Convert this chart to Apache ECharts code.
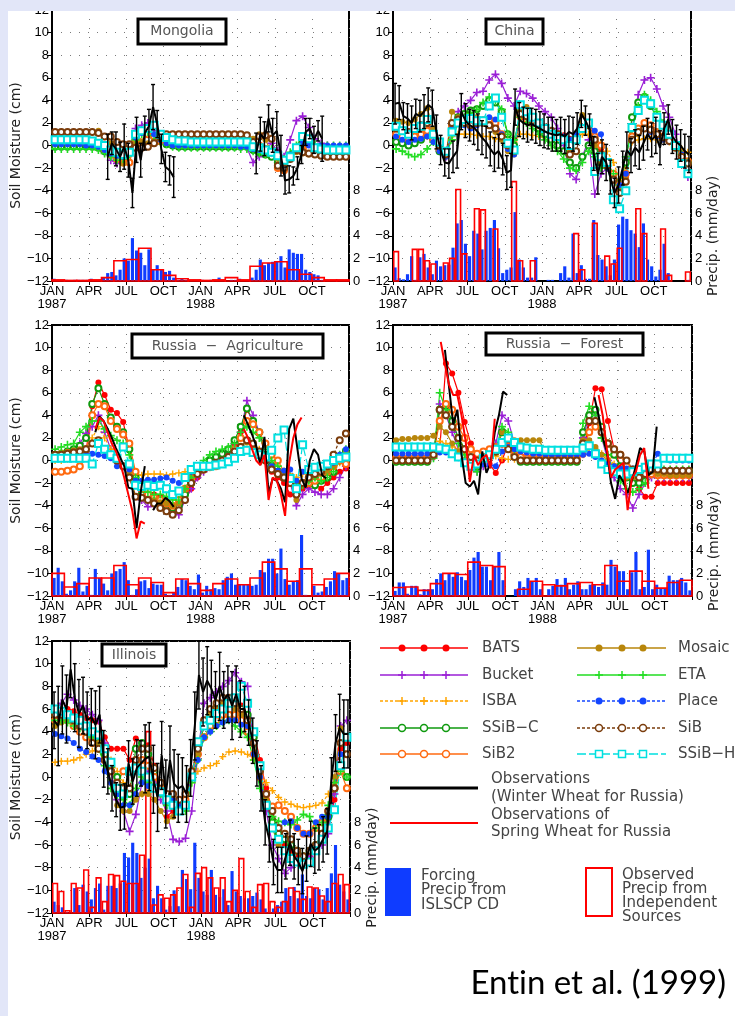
<!DOCTYPE html>
<html><head><meta charset="utf-8">
<script src="https://cdn.jsdelivr.net/npm/echarts/dist/echarts.min.js"></script>
<style>html,body{margin:0;padding:0;background:#fff}#c{width:735px;height:1016px}</style>
</head><body><div id="c"></div><script>
// ---------- tick labels ----------
const monthTicks = ['JAN\n1987','APR','JUL','OCT','JAN\n1988','APR','JUL','OCT',''];
const modelKeys = ['bats','bucket','isba','ssibc','sib2','mosaic','eta','place','sib','ssibh'];
const modelNames = ['BATS','Bucket','ISBA','SSiB\u2212C','SiB2','Mosaic','ETA','Place','SiB','SSiB\u2212H'];

// ---------- MONGOLIA (semi-monthly model values, dekadal obs / forcing precip, monthly observed precip) ----------
const mnBats=[0.2,0.2,0.2,0.2,0.2,0.2,0.2,0.1, -0.3,-0.6,-0.8,-0.9,-0.5,0.6,1.0,1.2, 0.9,0.5,0.3,0.2,0.2,0.2,0.2,0.2, 0.2,0.2,0.2,0.2,0.2,0.2,0.1,0.1, -0.2,-0.4,-0.6,-0.8,-1.2,-1.6,-0.9,-0.3, 0.2,0.1,-0.1,-0.2,-0.3,-0.3,-0.3,-0.3];
const mnBucket=[0,0,0,0,0,0,0,-0.1, -0.6,-1.3,-1.6,-1.2,-0.4,1.5,1.8,2.0, 1.3,0.6,0.2,0.1,0,0,0,0, 0,0,0,0,0,0,0,-0.2, -1.5,-1.0,-0.3,0.2,-0.5,-1.0,0.5,2.2, 2.6,1.6,0.6,0.2,0,-0.1,-0.1,-0.1];
const mnIsba=[0,0,0,0,0,0,0,-0.1, -0.4,-0.8,-1.0,-1.1,-0.7,0.4,0.8,1.0, 0.7,0.3,0.1,0,0,0,0,0, 0,0,0,0,0,0,0,0, -0.3,-0.5,-0.7,-0.9,-1.4,-1.8,-1.0,-0.3, 0.2,0,-0.2,-0.3,-0.4,-0.4,-0.4,-0.4];
const mnSsibc=[-0.1,-0.1,-0.1,-0.1,-0.1,-0.1,-0.1,-0.2, -0.5,-0.8,-1.0,-1.0,-0.6,0.5,1.0,1.2, 0.8,0.4,0.1,0,-0.1,-0.1,-0.1,-0.1, -0.1,-0.1,-0.1,-0.1,-0.1,-0.1,-0.1,-0.1, -0.4,-0.6,-0.8,-1.0,-1.5,-1.9,-1.0,-0.4, 0.3,0.1,-0.2,-0.4,-0.5,-0.5,-0.5,-0.5];
const mnSib2=[0.3,0.3,0.3,0.3,0.3,0.3,0.3,0.2, -0.3,-0.8,-1.2,-1.5,-1.5,0.3,0.8,1.0, 0.8,0.4,0.3,0.3,0.3,0.3,0.3,0.3, 0.3,0.3,0.3,0.3,0.3,0.3,0.3,0.2, -0.2,0,-0.3,-0.6,-2.0,-2.2,-1.0,-0.4, 0,-0.3,-0.5,-0.6,-0.7,-0.7,-0.7,-0.7];
const mnMosaic=[1.1,1.1,1.1,1.1,1.1,1.1,1.2,1.3, 0.8,0.2,-1.0,-1.6,-0.8,0.2,0.3,0.2, 0.4,0.8,1.0,1.0,1.0,1.0,1.0,1.0, 1.0,1.0,1.0,1.0,1.0,1.0,1.0,0.9, 0.6,1.0,0.5,-0.6,-1.2,-1.5,-1.0,-0.6, -0.7,-0.8,-0.8,-0.8,-0.8,-0.8,-0.8,-0.8];
const mnEta=[-0.3,-0.3,-0.3,-0.3,-0.3,-0.3,-0.3,-0.4, -0.7,-1.0,-1.3,-1.2,-0.8,0.5,1.0,1.2, 0.9,0.4,0.1,-0.1,-0.2,-0.2,-0.2,-0.2, -0.2,-0.2,-0.2,-0.2,-0.2,-0.2,-0.3,-0.3, -0.5,-0.7,-0.8,-0.3,-1.0,-1.2,-0.6,0, 0.8,0.5,0.1,0,0,0,0,0];
const mnPlace=[0.1,0.1,0.1,0.1,0.1,0,0,-0.1, -0.4,-0.7,-0.9,-1.0,-0.6,0.7,1.1,1.4, 1.0,0.5,0.2,0,0,0,0,0, 0,0,0,0,0,0,-0.1,-0.1, -0.3,-0.4,-0.5,-0.7,-1.0,-1.4,-0.8,-0.2, 0.2,0,-0.1,0,0,0,0,0];
const mnSib=[1.2,1.2,1.2,1.2,1.2,1.2,1.2,1.1, 0.8,0.8,0.3,0.1,0.1,-0.2,-0.2,-0.1, 0.2,0.7,1.0,1.0,1.0,1.0,1.0,1.0, 1.0,1.0,1.0,1.0,1.0,1.0,1.0,0.9, 0.3,0.8,0.9,0.6,-1.8,-2.0,-1.2,-0.4, -0.6,-0.7,-0.8,-0.9,-1.0,-1.0,-1.0,-1.0];
const mnSsibh=[0.5,0.5,0.5,0.5,0.5,0.5,0.4,0.2, 0,-0.4,-0.6,-0.8,-0.6,1.0,1.3,1.5, 1.8,1.0,0.7,0.5,0.4,0.4,0.3,0.3, 0.3,0.3,0.3,0.3,0.3,0.3,0.3,0.3, -0.1,-0.2,-0.4,-0.6,-0.9,-1.3,-1.0,-0.2, 0.8,0.6,-0.2,-0.3,-0.4,-0.4,-0.4,-0.4];
const mnObs=[null,null,null,null,null,null,null,null,null,null,null,null,
 null,-1.0,0.2,-0.3,-1.0,-0.1,-1.3,-4.2,0.5,-1.3,1.1,1.7,
 3.4,1.9,-0.3,-1.9,-2.2,-2.8,null,null,null,null,null,null,
 null,null,null,null,null,null,null,null,null,null,null,null,
 null,-0.7,1.0,0.6,2.4,0.9,1.3,-0.9,-3.1,-3.0,-2.7,-2.0,
 -0.8,1.2,1.5,0.5,1.3,0.6,null,null,null,null,null,null];
const mnErr=[null,null,null,null,null,null,null,null,null,null,null,null,
 null,2.0,1.0,1.5,1.3,2.0,1.5,1.3,2.0,1.5,1.5,1.5,
 2.0,1.2,1.3,1.3,1.3,1.8,null,null,null,null,null,null,
 null,null,null,null,null,null,null,null,null,null,null,null,
 null,1.8,1.5,1.5,1.2,1.5,1.7,1.8,1.2,1.2,0.8,1.0,
 0.8,1.2,0.9,1.2,0.9,2.0,null,null,null,null,null,null];
const mnBlue=[0.2,0.1,0.1,0.1,0,0.1,0.1,0.1,0.1,0.2,0.1,0.1,
 0.3,0.7,0.8,0.5,1.0,2.0,1.8,3.8,2.7,2.5,1.4,2.8,
 1.0,1.4,1.0,0.8,0.9,0.3,0.1,0.2,0.1,0,0.1,0,
 0.1,0,0.1,0.1,0.3,0.1,0,0.1,0.1,0.2,0.1,0.1,
 0.3,1.0,1.9,1.4,1.6,1.7,1.7,2.2,1.2,2.8,2.5,2.4,
 2.4,1.0,0.8,0.6,0.5,0.1,0.1,0,0,0.1,0,0];
const mnRed=[0.1,0.05,0.05,0.1,0.3,1.8,1.9,2.9,1.0,0.5,0.2,0.1, 0.05,0.1,0.3,0.1,1.3,1.6,1.7,1.0,0.6,0.3,0.1,0.1];

// ---------- CHINA ----------
const cnBats=[1.2,1.0,0.8,1.0,1.2,1.5,0.6,-0.2, -0.8,1.8,2.3,2.0,1.8,2.0,2.3,2.0, 1.8,0.8,0,-0.5,2.5,2.3,2.0,1.8, 1.5,1.3,1.1,0.9,0.6,1.0,1.6,1.8, 0.8,-0.3,-1.8,-2.8,-3.8,-2.8,0.6,1.2, 1.6,1.4,1.0,0.8,0.4,-0.2,-1.0,-1.6];
const cnBucket=[1.0,0.8,0.5,0.8,1.2,1.5,0.5,-0.5, -1.0,1.0,3.0,3.5,4.0,4.7,4.8,5.8, 6.3,5.5,4.2,3.5,4.8,4.6,4.2,3.5, 3.0,2.5,1.5,0,-2.5,-3.0,-1.0,0.5, -4.3,-2.5,-2.0,-3.0,-3.8,-1.0,1.5,4.5, 5.8,6.0,5.0,3.5,2.5,1.0,-1.0,-2.8];
const cnIsba=[0.5,0.5,0.4,0.5,0.6,0.8,0.5,0, -0.5,0.8,1.0,1.0,1.0,0.9,0.8,0.8, 0.6,0.4,0.3,0.3,1.0,1.0,0.9,0.8, 0.7,0.6,0.5,0.5,0.4,0.6,1.0,1.0, 0.5,0.2,-0.5,-1.5,-3.0,-2.0,0.3,0.5, 0.6,0.6,0.5,0.5,0.3,0,-0.3,-0.6];
const cnSsibc=[0.3,0.2,0,0.2,0.5,1.0,0.5,-0.5, -0.8,1.5,2.5,2.8,3.1,3.2,3.5,4.0, 3.8,3.0,1.0,0,3.0,2.5,2.0,1.5, 1.0,0.5,0,-0.5,-1.5,-2.0,-1.0,0, -0.5,-1.5,-1.8,-3.0,-3.5,-1.5,2.5,3.8, 4.3,3.5,2.5,1.8,1.0,0,-0.8,-1.5];
const cnSib2=[1.0,0.8,0.6,0.8,1.0,1.3,0.5,-0.3, -0.8,1.8,2.2,2.0,1.8,2.0,2.2,2.3, 2.0,1.0,0,-0.5,2.6,2.3,2.0,1.8, 1.5,1.2,1.0,0.7,0.3,0.8,1.5,1.8, 0.8,0,-1.5,-2.5,-3.5,-2.5,0.8,1.5, 2.0,1.8,1.2,0.8,0.5,0,-0.8,-1.4];
const cnMosaic=[2.2,2.1,2.0,2.3,2.8,3.3,1.5,0, -1.0,3.0,2.5,2.0,2.2,2.5,2.3,1.8, 1.2,0.5,-0.5,-0.8,3.2,3.4,2.5,2.0, 1.5,1.2,0.8,0.5,-0.5,0.5,2.7,2.0, 0,-1.5,-2.0,-3.0,-4.0,-3.0,0.5,1.0, 1.5,1.5,1.0,0.8,0.5,0,-0.8,-1.5];
const cnEta=[-0.3,-0.5,-0.8,-1.0,-0.8,-0.3,0.3,0, -0.8,0.5,2.0,2.5,2.8,3.2,3.8,4.3, 4.0,3.2,1.0,0.5,2.5,2.0,1.5,1.0, 0.5,0,-0.5,-1.2,-2.0,-2.2,-1.5,-0.5, -1.0,-2.0,-1.5,-2.5,-3.5,-1.0,1.5,3.5, 4.5,4.0,3.0,2.0,1.0,0,-0.8,-1.5];
const cnPlace=[0.8,0.5,0.3,0.5,0.6,0.8,0.3,-0.5, -1.0,1.5,2.0,1.8,1.5,1.8,2.0,2.5, 2.3,1.0,-0.3,-0.8,2.8,2.5,2.0,1.8, 1.5,1.2,1.0,0.8,0.5,1.0,1.5,1.8, 1.3,1.0,-2.0,-3.0,-3.5,-2.5,0.5,1.2, 1.5,1.2,0.8,0.5,0.3,0,-0.8,-1.5];
const cnSib=[1.5,1.3,1.2,1.5,1.8,2.0,1.0,0, -0.8,2.0,2.3,2.0,1.8,2.0,2.0,1.8, 1.5,0.8,0,-0.5,2.8,2.6,2.2,1.9, 1.6,1.3,1.0,0.5,-0.8,-0.5,1.5,1.8, 0.5,-0.8,-1.8,-3.0,-4.2,-3.2,0.5,1.2, 1.5,1.4,1.0,0.7,0.4,-0.2,-1.0,-1.6];
const cnSsibh=[1.7,1.3,1.0,1.5,1.7,2.3,1.0,0.3, -0.5,1.2,2.0,2.3,2.4,2.2,2.2,3.5, 4.2,2.5,0.2,-0.4,3.6,3.0,2.5,2.0, 1.5,1.0,0.8,0.5,0,0.5,1.5,2.0, -2.3,-1.0,-1.5,-4.8,-5.6,-4.0,1.6,3.1, 4.0,3.7,2.5,1.8,1.0,0,-1.6,-2.5];
const cnObs=[3.7,3.8,2.6,2.4,2.0,2.8,2.6,3.0,3.6,3.3,1.2,-0.4,
 -1.5,-1.6,-1.0,-0.5,3.0,2.2,1.8,1.6,1.2,0.7,0.3,-0.3,
 -0.8,-0.5,-1.2,-2.4,-2.2,3.4,2.3,2.0,1.8,1.9,1.7,1.5,
 1.3,1.1,1.0,0.9,1.0,0.8,1.2,1.0,1.5,2.8,2.2,1.4,
 -0.7,-2.5,-1.0,-1.5,-2.8,-4.2,-3.5,-2.0,-0.4,-0.9,-0.2,-0.6,
 0.2,1.0,0.5,0.9,-0.2,1.5,2.3,0.8,0.3,0,-0.5,-0.8];
const cnErr=[1.8,1.5,1.2,1.3,1.5,1.3,1.4,1.5,1.5,1.6,1.5,1.3,
 1.2,1.3,1.4,1.5,1.6,1.5,1.4,1.5,1.6,1.5,1.4,1.5,
 1.5,1.5,1.4,1.5,1.5,1.6,1.5,1.4,1.5,1.4,1.5,1.5,
 1.5,1.4,1.5,1.4,1.5,1.5,1.4,1.5,1.4,1.2,1.3,1.4,
 1.5,1.8,1.5,1.6,1.5,1.3,1.6,1.5,1.6,1.5,1.6,1.5,
 1.5,1.4,1.5,1.6,1.5,1.4,1.3,1.5,1.5,1.4,1.5,1.6];
const cnBlue=[1.2,0.25,0.15,0.6,2.2,0.1,2.1,2.4,1.2,0.6,1.8,1.3,
 1.4,1.45,2.95,5.1,5.4,3.3,2.2,4.45,4.2,2.8,4.45,4.7,
 5.4,2.9,0.7,1.0,1.2,6.1,1.9,1.2,0.3,0.3,2.1,0,
 0,0.1,0.1,0,0.7,1.3,0.3,4.2,0.7,1.4,0.2,0.2,
 5.4,2.3,1.9,1.3,0.5,1.9,5.0,5.7,5.5,4.5,4.2,3.0,
 5.1,1.9,1.3,0.4,1.0,3.3,0.7,0,0,0,0,0.1];
const cnRed=[2.6,0,0,2.8,2.8,1.8,1.5,0, 1.6,2.0,8.1,2.4,0,6.4,6.3,0, 4.6,0,0,8.8,1.8,0,1.8,0, 0,0,0,0,0,4.2,1.0,0, 5.1,0,2.2,1.5,2.9,0,0,6.4, 4.2,0,0,4.6,0.5,0,0,0.8];

// ---------- RUSSIA - AGRICULTURE ----------
const raBats=[0.3,0.3,0.4,0.5,0.6,0.8,4.8,6.9, 5.8,4.5,4.2,3.4,1.0,-2.0,-3.0,-3.2, -3.0,-3.2,-3.5,-4.0,-4.3,-3.5,-2.5,-1.5, -0.5,-0.2,0,0.3,0.8,1.5,2.5,4.5, 3.5,2.5,0.5,-1.0,-1.5,-2.0,-3.0,-3.0, -2.5,-2.2,-2.0,-2.5,-2.0,-1.5,-1.0,-0.7];
const raBucket=[0.3,0.4,0.5,0.6,1.5,2.4,3.0,4.0, 2.5,1.0,0,-0.5,-1.0,-2.0,-3.5,-4.1, -4.0,-4.0,-4.2,-4.5,-4.8,-3.5,-2.5,-1.5, -1.0,-0.5,0,0.3,0.7,1.5,2.5,5.3, 4.0,2.5,0.5,-0.5,-1.0,-1.5,-2.0,-4.0, -3.0,-2.5,-2.8,-3.0,-3.0,-2.5,-1.5,-0.5];
const raIsba=[0,0,0.1,0.2,0.5,1.0,2.0,3.0, 2.0,1.0,0,-0.5,-0.8,-1.2,-1.3,-1.2, -1.2,-1.2,-1.3,-1.2,-1.1,-1.0,-0.8,-0.6, -0.5,-0.4,-0.3,-0.2,0,0.5,1.0,2.0, 1.5,1.0,0,-0.5,-0.8,-1.0,-1.2,-1.5, -1.2,-1.0,-1.0,-0.8,-0.6,-0.5,-0.2,0];
const raSsibc=[0.5,0.6,0.8,1.0,1.3,2.0,5.0,6.4, 5.0,3.8,3.0,2.5,1.0,-1.5,-3.0,-3.3, -3.5,-3.8,-4.0,-4.2,-4.0,-3.0,-2.0,-1.0, -0.5,0,0.3,0.6,1.0,1.8,3.0,4.6, 3.5,2.5,1.0,-0.5,-1.0,-1.5,-2.0,-2.5, -2.0,-2.0,-2.2,-1.8,-1.5,-1.0,0,0.8];
const raSib2=[-1.0,-1.0,-0.9,-0.8,-0.5,0.5,4.0,5.0, 4.8,3.5,2.8,2.3,1.5,-1.0,-2.5,-3.0, -3.3,-3.5,-3.8,-4.0,-3.5,-2.5,-1.5,-1.0, -0.8,-0.6,-0.5,-0.3,0,1.0,2.0,3.5, 3.2,2.5,1.5,0.5,0,-1.0,-2.0,-2.5, -2.0,-2.0,-1.8,-1.5,-1.0,-0.5,0,-0.3];
const raMosaic=[0.6,0.7,0.8,0.9,1.0,1.1,1.6,1.8, 1.0,0.5,0,-0.5,-1.0,-3.2,-3.3,-3.4, -3.5,-3.7,-3.8,-4.0,-3.8,-2.5,-1.5,-1.0, -0.8,-0.5,-0.2,0,0.3,0.8,1.3,1.6, 1.2,0.5,0,-0.5,-1.0,-1.2,-1.8,-3.5, -2.0,-1.8,-1.5,-1.2,-1.0,-0.5,0.3,0.8];
const raEta=[1.0,1.2,1.4,1.5,2.5,3.0,3.5,3.5, 2.8,2.2,1.8,1.5,0.5,-1.5,-2.5,-2.8, -3.0,-3.0,-3.2,-3.5,-3.5,-2.5,-1.5,-1.0, 0,0.5,0.8,1.0,1.2,1.5,2.5,3.0, 2.5,2.0,1.0,0,-0.5,-1.0,-1.5,-2.0, -2.2,-1.8,-1.5,-1.8,-1.5,-1.0,0.5,1.0];
const raPlace=[0.4,0.4,0.5,0.5,0.5,0.5,0.6,0.5, 0.4,0.2,-0.5,-0.6,-0.8,-1.8,-1.8,-1.7, -1.7,-1.6,-1.5,-1.8,-2.0,-1.6,-1.0,-0.7, -0.6,-0.4,-0.2,0,0.3,0.6,1.0,1.8, 1.5,0.8,0,-0.5,-0.9,-0.9,-0.8,-1.8, -1.0,-0.8,-0.7,-0.6,-0.5,-0.2,0.5,1.0];
const raSib=[0.5,0.5,0.6,0.7,0.8,1.0,1.5,1.8, 1.0,0.5,0,-0.5,-1.5,-3.2,-3.3,-3.5, -3.8,-4.2,-4.5,-4.8,-4.4,-3.5,-2.0,-1.2, -0.8,-0.5,-0.2,0,0.3,0.8,1.2,1.8, 1.5,0.8,0,-0.8,-1.2,-1.5,-2.0,-3.0, -2.0,-1.5,-1.2,-1.0,-0.5,0.5,1.8,2.4];
const raSsibh=[0.2,0.2,0.2,0.2,0.2,0.2,-0.3,1.5, 1.0,0.5,0.2,1.2,-0.3,-2.2,-2.3,-2.2, -2.3,-2.2,-2.5,-3.0,-2.7,-1.5,-0.8,-0.5, -0.5,-0.5,-0.4,-0.3,-0.1,0.2,0.8,0.9, 0.7,0.5,0.3,0.9,2.0,2.7,-1.6,-2.5, 1.4,-0.8,-0.6,-0.5,-0.3,0,0.2,0.3];
const raObs=[null,null,null,null,null,null,null,null,null,null,2.5,3.9,
 3.5,2.8,2.0,1.1,0.3,-0.5,-2.4,-2.5,-6.0,-2.8,-0.5,null,
 -4.4,-3.8,-3.8,-3.3,-3.6,-4.1,null,null,null,null,null,null,
 null,null,null,null,null,null,null,null,null,null,4.0,3.2,
 2.3,1.3,-0.4,2.1,-2.9,-1.6,-1.8,-2.5,-3.7,2.8,3.7,1.0,
 -1.6,-2.4,0,1.0,0.5,-1.3,-1.6,null,null,null,null,null];
const raObs2=[null,null,null,null,null,null,null,null,null,null,2.8,3.8,
 3.5,2.5,1.5,0.8,-0.2,-1.5,-3.0,-4.5,-6.9,-5.4,-5.6,null,
 null,null,null,null,null,null,null,null,null,null,null,null,
 null,null,null,null,null,null,null,null,null,null,2.8,2.0,
 1.0,0,-0.4,0.5,-3.5,-1.5,-1.8,-3.0,-4.9,-0.2,2.0,3.2,
 3.8,null,null,null,null,null,null,null,null,null,null,null];
const raBlue=[1.6,2.5,1.3,0.2,0.5,1.3,2.5,0.4,0.9,0.1,2.4,1.6,
 1.1,0.5,2.0,2.2,2.4,3.0,1.4,0.1,0.6,1.3,1.4,0.7,
 1.1,1.0,1.0,0.2,0.1,0.3,0.8,1.5,1.4,0.9,0.6,1.9,
 0.3,0.9,0.6,0.7,0.6,1.4,1.7,2.0,1.0,1.0,1.0,1.0,
 0.9,1.0,2.3,2.1,3.3,3.3,2.0,4.2,1.5,1.0,1.3,1.4,
 5.4,0.1,0,0.9,0.3,0.4,0.8,1.3,2.2,2.0,1.4,1.6];
const raRed=[2.0,0.8,1.1,1.6,1.6,2.7,1.0,1.6,1.2,0.3,1.5,1.1, 0.5,1.1,1.5,1.0,1.6,3.0,2.4,1.3,2.4,1.0,1.5,2.0];

// ---------- RUSSIA - FOREST ----------
const rfBats=[0.3,0.3,0.3,0.3,0.3,0.3,0.3,1.0, 8.6,7.7,6.0,3.4,1.5,0.2,0.5,-0.3, -1.1,0,1.5,1.0,0.8,0.7,0.6,0.6, 0.5,0.5,0.5,0.5,0.5,0.5,0.5,3.3, 6.4,6.3,3.5,1.0,-0.5,-1.0,-1.5,-2.5, -3.2,-3.2,-2.0,-2.0,-2.0,-2.0,-2.0,-2.0];
const rfBucket=[0,0,0,0,0,0,0.3,5.0, 4.0,2.5,1.0,0,-0.8,-1.0,-0.5,0.5, 1.5,4.0,3.5,1.5,0.5,0.2,0.1,0, 0,0,0,0,0,0,2.0,4.0, 4.0,2.0,0,-1.5,-2.5,-3.0,-4.2,-3.0, -2.0,-1.5,-1.5,-1.5,-1.5,-1.5,-1.5,-1.5];
const rfIsba=[0.1,0.1,0.1,0.1,0.1,0.1,0.5,1.7, 1.5,1.2,1.0,0.6,0.2,0,0.2,0.3, 0.4,0.2,0.1,0.1,0.1,0.1,0.1,0.1, 0.1,0.1,0.1,0.1,0.1,0.1,0.5,1.0, 1.0,0.6,0.2,-0.3,-0.8,-1.2,-1.5,-1.5, -1.3,-1.3,-1.4,-1.4,-1.4,-1.4,-1.4,-1.4];
const rfSsibc=[-0.1,-0.1,-0.1,-0.1,-0.1,-0.1,0.5,4.5, 4.8,3.5,2.0,1.0,0,-0.5,0.2,0.5, 0.8,2.5,2.0,0.5,-0.1,-0.1,-0.1,-0.1, -0.1,-0.1,-0.1,-0.1,-0.1,-0.1,2.5,4.0, 4.5,3.0,1.5,0.5,-0.5,-1.5,-2.0,-2.0, -1.8,-1.0,-1.0,-1.0,-1.0,-1.0,-1.0,-1.0];
const rfSib2=[0.2,0.2,0.2,0.2,0.2,0.2,0.5,3.5, 5.0,4.5,3.0,2.0,1.0,0.6,0.8,1.0, 1.2,1.5,1.2,0.5,0.3,0.2,0.2,0.2, 0.2,0.2,0.2,0.2,0.2,0.2,1.0,2.5, 3.0,2.5,1.5,1.0,0.5,-0.5,-1.0,-1.2, -1.0,-1.2,-1.3,-1.3,-1.3,-1.3,-1.3,-1.3];
const rfMosaic=[1.8,1.9,1.9,2.0,2.0,2.0,2.2,3.0, 2.5,1.5,0.8,0,-0.5,-0.5,0,0.5, 1.0,2.5,2.0,1.8,1.8,1.8,1.8,1.8, 0.6,0.6,0.6,0.6,0.6,0.6,1.8,1.8, 1.2,0.5,0,-0.5,-1.0,-1.5,-1.5,-1.5, -1.0,-1.0,-1.2,-1.2,-1.3,-1.3,-1.3,-1.3];
const rfEta=[-0.1,-0.1,-0.1,-0.1,-0.1,-0.1,0.2,6.0, 4.5,3.0,1.5,0.5,-0.5,-1.0,0,0.5, 1.0,3.0,2.5,1.0,0,-0.1,-0.1,-0.1, -0.1,-0.1,-0.1,-0.1,-0.1,-0.1,3.3,4.8, 4.0,2.0,0.5,-1.0,-1.8,-2.5,-2.8,-2.5, -2.0,-0.5,-0.8,-0.8,-0.8,-0.8,-0.8,-0.8];
const rfPlace=[0.6,0.6,0.6,0.6,0.6,0.6,0.6,0.7, 0.7,0.5,0.2,-0.2,-0.5,-0.4,-0.3,-0.4, -0.5,0.8,1.2,1.0,0.8,0.7,0.6,0.6, 0.5,0.5,0.5,0.5,0.5,0.5,0.5,0.6, 0.3,0,-0.3,-0.5,-0.7,-0.7,-0.7,-0.8, -0.6,-0.5,0.6,0.3,0,0,0,0];
const rfSib=[0,0,0,0,0,0,0.5,4.5, 4.0,3.0,2.0,1.0,0.3,0,0.2,0.4, 0.8,1.5,1.0,0.3,0,0,0,0, 0,0,0,0,0,0,1.5,3.5, 3.5,2.5,1.5,1.0,0.5,0,-0.8,-1.5, -1.2,-0.8,-0.8,-0.9,-0.9,-0.9,-0.9,-0.9];
const rfSsibh=[1.2,1.2,1.2,1.2,1.2,1.2,1.2,1.1, 1.0,0.6,0.3,-0.2,-0.5,-0.3,0.2,0.5, 1.0,1.6,2.0,1.6,1.2,1.1,1.0,1.0, 0.9,0.9,0.9,0.9,0.9,0.9,1.1,1.3, 0.6,-0.3,-0.8,-1.0,-1.2,-1.2,-1.0,-0.8, -0.6,-0.3,-0.3,0.2,0.2,0.2,0.2,0.2];
const rfObs=[null,null,null,null,null,null,null,null,null,null,null,null,
 9.8,6.5,3.2,4.5,0.5,-2.0,-2.3,-1.8,-3.0,0.8,-1.1,-0.2,
 2.5,4.0,6.1,5.8,null,null,null,null,null,null,null,null,
 null,null,null,null,null,null,null,null,null,null,null,null,
 5.6,4.0,2.0,0.8,-2.0,-3.4,-1.3,-1.9,-2.9,-1.8,-0.5,1.1,
 0.8,-1.3,-1.0,3.0,null,null,null,null,null,null,null,null];
const rfObs2=[null,null,null,null,null,null,null,null,null,null,null,10.5,
 8.5,6.7,5.8,5.8,4.0,1.7,-1.9,0.5,-0.4,0.2,0.5,-0.7,
 3.7,null,null,null,null,null,null,null,null,null,null,null,
 null,null,null,null,null,null,null,null,null,null,null,null,
 null,5.8,4.0,1.0,-1.5,-0.8,-0.5,-0.2,-4.4,-1.6,-1.0,0.5,
 1.1,-2.5,null,null,null,null,null,null,null,null,null,null];
const rfBlue=[0.45,1.2,1.2,0.2,0.9,0.9,0.15,0.6,0.6,0.6,1.5,2.0,
 1.4,2.0,1.7,2.1,1.7,1.4,2.3,3.4,3.9,2.6,2.6,1.4,
 2.6,3.9,1.4,0,0,0.6,1.3,0.8,1.6,1.3,1.6,0.6,
 0,0.6,0.9,1.5,1.0,1.6,0.6,1.0,1.3,0.6,0.6,1.0,
 1.0,0.8,1.2,1.0,3.2,2.6,2.2,2.2,0.6,2.1,3.9,0.6,
 0.8,4.1,0.6,1.0,0.7,0.7,1.8,1.4,1.4,1.6,1.2,0.5];
const rfRed=[0.75,0.8,0.5,1.1,2.0,1.9,3.0,2.7,2.6,0,0.6,1.3, 1.0,0.9,1.1,1.2,1.0,2.7,1.3,2.2,1.3,0.7,1.2,1.4];

// ---------- ILLINOIS ----------
const ilBats=[5.5,5.8,6.0,5.8,5.5,5.2,5.0,4.9, 3.5,2.5,2.5,2.5,1.5,3.4,3.0,2.8, 1.0,-1.0,-3.5,-3.0,-2.5,-2.0,0.5,2.5, 4.5,5.0,5.5,6.0,6.5,6.5,6.3,5.5, 4.0,1.5,-1.0,-3.0,-5.0,-6.0,-6.5,-7.0, -7.5,-7.0,-6.5,-5.5,-4.5,-2.0,2.5,3.0];
const ilBucket=[6.0,6.5,7.3,6.8,6.3,6.0,5.5,5.0, 3.0,0.5,-2.0,-3.0,-4.8,-3.3,-0.5,0.5, 0,-2.0,-3.0,-5.5,-5.7,-5.4,-3.0,2.0, 6.5,7.0,7.5,8.0,8.5,9.2,8.4,8.0, 3.0,0,-3.0,-6.0,-7.2,-8.5,-8.0,-7.5, -7.0,-7.0,-6.5,-6.0,-5.0,-1.5,4.5,5.0];
const ilIsba=[1.3,1.4,1.4,1.5,1.7,2.0,2.3,2.5, 2.2,1.5,0.5,-0.5,-1.0,-1.5,-1.5,-1.3, -1.0,-1.0,-1.5,-1.8,-2.0,-1.5,-0.5,0.5, 0.8,1.0,1.2,1.8,2.2,2.3,2.2,2.0, 1.5,0.5,-0.5,-1.2,-1.8,-2.2,-2.4,-2.6, -2.7,-2.6,-2.5,-2.3,-1.5,-0.5,0.5,0];
const ilSsibc=[5.5,5.5,5.5,5.0,4.5,4.0,3.5,3.0, 2.0,1.0,0,-1.0,-1.5,2.5,3.0,2.0, 0.5,-1.0,-2.0,-2.5,-2.8,-2.5,0,2.5, 4.5,5.5,6.0,6.2,6.5,6.5,6.0,5.5, 3.5,1.0,-2.5,-4.0,-5.0,-5.5,-6.0,-6.5, -7.0,-6.5,-6.0,-5.0,-3.5,-1.0,1.0,0];
const ilSib2=[5.0,5.0,5.0,4.5,4.0,3.5,3.0,2.5, 1.5,0.5,-0.5,0.5,0.5,1.0,1.5,1.0, 0,-1.0,-2.0,-2.5,-2.5,-2.0,0,2.0, 3.5,4.5,5.0,5.5,5.5,5.5,5.0,4.0, 2.0,0,-1.5,-2.6,-2.5,-3.0,-3.5,-4.5, -5.0,-5.0,-4.5,-4.0,-3.0,-1.0,0.5,-1.0];
const ilMosaic=[4.5,4.8,5.0,4.8,4.5,4.0,3.5,3.0, 1.5,-0.5,-2.5,-3.0,-3.0,-2.0,-1.5,-1.5, -2.0,-3.0,-3.9,-3.5,-3.0,-2.5,0.5,2.0, 5.0,5.5,6.0,6.5,6.5,6.0,5.5,5.0, 3.0,0,-2.0,-4.5,-6.0,-6.5,-7.0,-7.5, -7.5,-6.5,-6.0,-5.5,-3.0,0,4.3,3.5];
const ilEta=[5.0,5.0,4.8,4.5,4.3,4.0,3.5,2.5, 1.0,-1.0,-1.6,-2.0,-2.5,-1.0,0,-0.5, -1.0,-1.5,-2.5,-2.5,-3.0,-3.0,-0.5,1.5, 3.5,4.0,4.5,4.8,5.0,4.5,4.0,3.5, 1.5,-1.0,-2.5,-3.5,-3.9,-4.0,-4.2,-3.8, -3.3,-3.5,-4.5,-4.0,-2.5,-0.5,0.5,0];
const ilPlace=[3.8,3.6,3.4,3.0,2.5,2.2,1.8,1.5, 0.5,-0.5,-1.5,-2.5,-2.5,-1.5,-0.5,-0.8, -1.0,-1.2,-1.5,-2.0,-2.5,-2.5,0,1.5, 3.5,4.0,4.5,4.8,5.0,5.0,4.6,4.5, 2.0,0,-2.5,-4.5,-4.5,-4.0,-3.9,-4.5, -5.0,-5.0,-4.0,-3.5,-3.5,-1.0,2.0,2.0];
const ilSib=[5.5,5.5,5.5,5.0,4.5,4.0,3.0,2.5, 1.5,0.5,-0.5,-1.0,-1.0,1.5,2.5,2.5, 0.8,-0.5,-1.5,-1.5,-2.0,-1.5,0.5,2.5, 5.0,6.0,6.5,7.0,7.0,6.5,6.0,5.0, 3.0,0.5,-1.5,-3.0,-4.5,-5.0,-5.5,-6.5, -7.0,-6.5,-6.0,-5.0,-3.0,-1.0,3.0,2.0];
const ilSsibh=[6.0,5.8,5.5,5.2,5.0,4.5,4.0,3.7, 2.5,1.3,-1.0,-1.5,0.5,0.8,0.5,0, -1.0,-1.3,-2.0,-2.5,-3.0,-2.5,0,3.1, 4.5,5.0,5.6,6.0,6.5,7.0,8.0,6.5, 4.0,1.0,-2.5,-4.5,-5.5,-6.5,-7.2,-7.5, -7.7,-7.5,-6.5,-5.5,-4.5,-2.9,1.0,3.5];
const ilObs=[5.0,4.5,6.8,6.0,9.5,7.0,5.6,6.3,5.0,5.3,4.6,5.5,
 1.6,0.5,-1.0,-2.0,-2.7,-2.6,1.2,-0.4,0.8,1.2,1.6,1.8,
 -0.2,-1.8,1.9,-1.5,1.5,-0.6,-1.0,-0.8,-1.5,0.8,4.5,9.0,
 7.5,8.5,7.8,6.8,8.0,6.8,7.3,6.3,7.3,6.0,6.0,4.8,
 3.2,1.2,-1.0,-4.0,-5.5,-7.5,-8.2,-8.2,-7.0,-5.8,-7.0,-7.5,
 -8.3,-7.2,-5.9,-6.5,-6.2,-5.5,-4.8,-0.3,3.0,4.3,3.8,3.8];
const ilErr=[2.5,3.5,3.0,3.0,2.5,3.0,3.0,2.5,2.5,2.5,3.0,2.5,
 2.5,2.0,2.0,1.5,2.0,2.0,2.0,2.0,2.5,2.0,3.0,3.0,
 3.0,3.0,3.0,3.0,3.0,3.0,3.0,2.5,2.5,2.5,3.0,3.0,
 3.0,3.0,2.5,2.5,3.0,2.5,2.5,3.0,2.5,2.5,2.0,2.0,
 2.0,2.0,2.0,2.0,2.0,2.0,2.0,2.0,2.0,2.0,2.0,2.0,
 2.0,2.0,2.0,2.0,2.0,2.0,2.0,2.0,2.5,3.0,3.0,3.0];
const ilBlue=[1.0,0.7,0.5,0.1,0.05,2.2,0.7,2.5,1.9,1.2,2.2,2.6,
 0.3,2.4,2.4,2.2,2.6,5.3,4.9,6.2,5.3,3.1,4.0,4.8,
 1.3,2.4,1.3,0.3,0.6,2.0,0.6,3.8,3.0,2.1,6.2,3.1,
 1.9,1.6,3.8,1.6,1.4,2.1,0.7,3.7,1.9,1.5,1.3,1.3,
 1.5,1.8,1.2,0.4,0.1,0.4,0.7,1.0,2.2,1.5,2.3,1.3,
 3.4,1.5,1.3,2.2,2.1,1.2,2.2,3.5,6.0,2.5,1.9,1.2];
const ilRed=[2.6,1.9,0.2,2.6,2.2,3.8,0.5,3.1, 1.0,3.4,3.3,2.8,2.6,2.6,5.1,16.0, 0.7,1.6,1.3,1.6,2.2,3.4,0.5,3.5, 4.0,3.1,2.2,3.1,1.0,2.0,4.8,1.9, 0.5,2.5,2.6,1.0,0.5,1.0,2.2,1.9, 1.2,2.3,2.2,1.5,1.0,2.6,3.4,2.5];

// ---------- styles ----------
const PLUS = 'path://M4,0H6V4H10V6H6V10H4V6H0V4H4Z';
const STY = {
  bats:  {color:'#ff0000', kind:'circle', size:6, dash:'solid'},
  bucket:{color:'#9a1fd6', kind:'plus', size:8, dash:'solid'},
  isba:  {color:'#ffa500', kind:'plus', size:7, dash:[3,2]},
  ssibc: {color:'#0f9a0f', kind:'emptyCircle', size:6, dash:'solid'},
  sib2:  {color:'#ff6a10', kind:'emptyCircle', size:6, dash:'solid'},
  mosaic:{color:'#b8860b', kind:'circle', size:6, dash:'solid'},
  eta:   {color:'#22dd22', kind:'plus', size:8, dash:'solid'},
  place: {color:'#1446ff', kind:'circle', size:6, dash:[3,2]},
  sib:   {color:'#7a3c0c', kind:'emptyCircle', size:6, dash:[3,2]},
  ssibh: {color:'#00e0e0', kind:'emptyRect', size:7, dash:[9,3]}
};
const LAV = '#e2e6f8';
const TF = 'Liberation Sans';
const LF = 'DejaVu Sans';

const panels = [
 {title:'Mongolia', left:52, top:10, width:297, height:271, soil:true, pname:false, box:[138,19,88,25],
  m:[mnBats,mnBucket,mnIsba,mnSsibc,mnSib2,mnMosaic,mnEta,mnPlace,mnSib,mnSsibh], obs:mnObs, err:mnErr, obs2:null, blue:mnBlue, red:mnRed, redSemi:false},
 {title:'China', left:393, top:10, width:298, height:271, soil:false, pname:true, box:[486,19,57,25],
  m:[cnBats,cnBucket,cnIsba,cnSsibc,cnSib2,cnMosaic,cnEta,cnPlace,cnSib,cnSsibh], obs:cnObs, err:cnErr, obs2:null, blue:cnBlue, red:cnRed, redSemi:true},
 {title:'Russia  \u2212  Agriculture', left:52, top:325, width:297, height:271, soil:true, pname:false, box:[132,334,191,24],
  m:[raBats,raBucket,raIsba,raSsibc,raSib2,raMosaic,raEta,raPlace,raSib,raSsibh], obs:raObs, err:null, obs2:raObs2, blue:raBlue, red:raRed, redSemi:false},
 {title:'Russia  \u2212  Forest', left:393, top:325, width:299, height:271, soil:false, pname:true, box:[486,333,157,22],
  m:[rfBats,rfBucket,rfIsba,rfSsibc,rfSib2,rfMosaic,rfEta,rfPlace,rfSib,rfSsibh], obs:rfObs, err:null, obs2:rfObs2, blue:rfBlue, red:rfRed, redSemi:false},
 {title:'Illinois', left:52, top:641, width:298, height:272, soil:true, pname:true, box:[102,644,64,22],
  m:[ilBats,ilBucket,ilIsba,ilSsibc,ilSib2,ilMosaic,ilEta,ilPlace,ilSib,ilSsibh], obs:ilObs, err:ilErr, obs2:null, blue:ilBlue, red:ilRed, redSemi:true}
];

function fmtY(v){ return v<0 ? '\u2212'+Math.abs(v) : String(v); }
function symbolOf(kind){ return kind==='plus' ? PLUS : kind; }

function barRender(fill, stroke){
  return function(params, api){
    const a = api.coord([api.value(0), api.value(2)]);
    const b = api.coord([api.value(1), 0]);
    return {type:'rect', shape:{x:a[0], y:a[1], width:b[0]-a[0], height:b[1]-a[1]},
      style: stroke ? {fill:'none', stroke:stroke, lineWidth:1.6} : {fill:fill}};
  };
}
function errRender(params, api){
  const x=api.value(0), y=api.value(1), e=api.value(2);
  const t=api.coord([x,y+e]), b=api.coord([x,y-e]);
  const st={stroke:'#000', lineWidth:1.4};
  return {type:'group', children:[
    {type:'line', shape:{x1:t[0],y1:t[1],x2:b[0],y2:b[1]}, style:st},
    {type:'line', shape:{x1:t[0]-2,y1:t[1],x2:t[0]+2,y2:t[1]}, style:st},
    {type:'line', shape:{x1:b[0]-2,y1:b[1],x2:b[0]+2,y2:b[1]}, style:st}]};
}

const grid=[], xAxis=[], yAxis=[], series=[], graphic=[];
const dotted = {type:[1,8], color:'#7a7a7a', width:1};
panels.forEach((p,pi)=>{
  const gi = pi*2, pg = pi*2+1;
  grid.push({left:p.left, top:p.top, width:p.width, height:p.height, show:true, backgroundColor:'#fff', borderColor:'#000', borderWidth:2});
  const ph = p.height/3;
  grid.push({left:p.left, top:p.top+p.height-ph, width:p.width, height:ph});
  xAxis.push({gridIndex:gi, type:'value', min:0, max:24, interval:3,
    axisLine:{show:true, onZero:false, lineStyle:{color:'#000', width:2}},
    axisTick:{show:true, length:4, lineStyle:{color:'#000'}},
    axisLabel:{formatter:v=>monthTicks[Math.round(v/3)], fontFamily:TF, fontSize:13, color:'#000', margin:4, lineHeight:13},
    splitLine:{show:true, lineStyle:dotted}});
  xAxis.push({gridIndex:pg, type:'value', min:0, max:24, show:false});
  yAxis.push({gridIndex:gi, type:'value', min:-12, max:12, interval:2,
    axisLine:{show:true, onZero:false, lineStyle:{color:'#000', width:2}},
    axisTick:{show:true, length:5, lineStyle:{color:'#000'}},
    axisLabel:{formatter:fmtY, fontFamily:TF, fontSize:13, color:'#000', margin:3},
    splitLine:{show:true, lineStyle:dotted},
    name: p.soil ? 'Soil Moisture (cm)' : '', nameLocation:'middle', nameGap:29,
    nameTextStyle:{fontFamily:LF, fontSize:14, color:'#222'}});
  yAxis.push({gridIndex:pg, type:'value', position:'right', min:0, max:8, interval:2,
    axisLine:{show:false}, axisTick:{show:false}, splitLine:{show:false},
    axisLabel:{fontFamily:TF, fontSize:13, color:'#000', margin:4},
    name: p.pname ? 'Precip. (mm/day)' : '', nameLocation:'middle', nameRotate:90, nameGap:15,
    nameTextStyle:{fontFamily:LF, fontSize:14, color:'#222'}});

  // forcing precip (dekadal)
  series.push({type:'custom', xAxisIndex:pg, yAxisIndex:pg, silent:true, z:2, clip:false,
    renderItem: barRender('#0f3cff', null), encode:{x:[0,1], y:2},
    data: p.blue.map((v,i)=>[(i+0.12)/3, (i+0.88)/3, v]).filter(d=>d[2]>0)});
  // observed precip
  const redData = p.redSemi
    ? p.red.map((v,i)=>[i/2+0.06, i/2+0.44, v])
    : p.red.map((v,i)=>[i, i+1, v]);
  series.push({type:'custom', xAxisIndex:pg, yAxisIndex:pg, silent:true, z:2, clip:false,
    renderItem: barRender(null, '#ff0000'), encode:{x:[0,1], y:2},
    data: redData.filter(d=>d[2]>0)});
  // models
  p.m.forEach((arr,mi)=>{
    const s = STY[modelKeys[mi]];
    series.push({type:'line', name:modelNames[mi], xAxisIndex:gi, yAxisIndex:gi, z:3, silent:true,
      data: arr.map((v,i)=>[(i+0.5)/2, v]),
      symbol: symbolOf(s.kind), symbolSize: s.size, showSymbol:true,
      lineStyle:{color:s.color, width:1.2, type:s.dash},
      itemStyle:{color:s.color, borderColor:s.color, borderWidth: (s.kind==='emptyCircle'||s.kind==='emptyRect')?1.4:0}});
  });
  // observations
  series.push({type:'line', xAxisIndex:gi, yAxisIndex:gi, z:5, silent:true, symbol:'none', connectNulls:false,
    data: p.obs.map((v,i)=>[(i+0.5)/3, v==null?'-':v]), lineStyle:{color:'#000', width:2}});
  if(p.err){
    series.push({type:'custom', xAxisIndex:gi, yAxisIndex:gi, z:5, silent:true, clip:true,
      renderItem: errRender, encode:{x:0, y:1},
      data: p.obs.map((v,i)=>[(i+0.5)/3, v, p.err[i]]).filter(d=>d[1]!=null && d[2]!=null)});
  }
  if(p.obs2){
    series.push({type:'line', xAxisIndex:gi, yAxisIndex:gi, z:5, silent:true, symbol:'none', connectNulls:false,
      data: p.obs2.map((v,i)=>[(i+0.5)/3, v==null?'-':v]), lineStyle:{color:'#ff0000', width:2}});
  }
  // title box
  const [bx,by,bw,bh] = p.box;
  graphic.push({type:'rect', z:50, shape:{x:bx, y:by, width:bw, height:bh}, style:{fill:'#fff', stroke:'#000', lineWidth:3}});
  graphic.push({type:'text', z:51, x:bx+bw/2, y:by+bh/2, style:{text:p.title, font:'14px "DejaVu Sans"', fill:'#555', textAlign:'center', textVerticalAlign:'middle', align:'center', verticalAlign:'middle'}});
});

// ---------- legend ----------
function legSym(kind, color, cx, cy){
  if(kind==='circle') return {type:'circle', z:60, shape:{cx:cx,cy:cy,r:3.5}, style:{fill:color}};
  if(kind==='emptyCircle') return {type:'circle', z:60, shape:{cx:cx,cy:cy,r:3.5}, style:{fill:'#fff', stroke:color, lineWidth:1.5}};
  if(kind==='emptyRect') return {type:'rect', z:60, shape:{x:cx-3.5,y:cy-3.5,width:7,height:7}, style:{fill:'#fff', stroke:color, lineWidth:1.5}};
  return {type:'group', z:60, children:[
    {type:'line', shape:{x1:cx-4,y1:cy,x2:cx+4,y2:cy}, style:{stroke:color,lineWidth:1.5}},
    {type:'line', shape:{x1:cx,y1:cy-4,x2:cx,y2:cy+4}, style:{stroke:color,lineWidth:1.5}}]};
}
const legRows = [648,675,701,728,754];
modelKeys.forEach((k,i)=>{
  const col = i<5 ? 0 : 1;
  const y = legRows[i%5];
  const x1 = col? 577:380, x2 = col? 666:468, tx = col? 678:482;
  const s = STY[k];
  graphic.push({type:'line', z:59, shape:{x1:x1,y1:y,x2:x2,y2:y}, style:{stroke:s.color, lineWidth:1.6, lineDash: s.dash==='solid'?null:s.dash}});
  const xs = col? [599,622,643] : [402,424,446];
  xs.forEach(cx=>graphic.push(legSym(s.kind, s.color, cx, y)));
  graphic.push({type:'text', z:60, x:tx, y:y, style:{text:modelNames[i], font:'15px "DejaVu Sans"', fill:'#444', textVerticalAlign:'middle', verticalAlign:'middle'}});
});
const legText = (t,x,y)=>({type:'text', z:60, x:x, y:y, style:{text:t, font:'15px "DejaVu Sans"', fill:'#444', textVerticalAlign:'middle', verticalAlign:'middle'}});
graphic.push({type:'line', z:59, shape:{x1:390,y1:788,x2:478,y2:788}, style:{stroke:'#000', lineWidth:3}});
graphic.push(legText('Observations',491,779));
graphic.push(legText('(Winter Wheat for Russia)',491,797));
graphic.push({type:'line', z:59, shape:{x1:390,y1:823,x2:478,y2:823}, style:{stroke:'#ff0000', lineWidth:2}});
graphic.push(legText('Observations of',491,815));
graphic.push(legText('Spring Wheat for Russia',491,832));
graphic.push({type:'rect', z:59, shape:{x:385,y:868,width:26,height:48}, style:{fill:'#0f3cff'}});
['Forcing','Precip from','ISLSCP CD'].forEach((t,i)=>graphic.push(legText(t,421,876+i*14.5)));
graphic.push({type:'rect', z:59, shape:{x:586,y:868,width:26,height:48}, style:{fill:'none', stroke:'#ff0000', lineWidth:2}});
['Observed','Precip from','Independent','Sources'].forEach((t,i)=>graphic.push(legText(t,622,875+i*14)));
graphic.push({type:'text', z:60, x:726, y:983, style:{text:'Ent\u200Cin et al. (1999)', font:'33px Lato', fill:'#000', textAlign:'right', textVerticalAlign:'middle', align:'right', verticalAlign:'middle'}});

// lavender frame strips (cover the cropped top edge)
graphic.push({type:'rect', z:100, shape:{x:0,y:0,width:735,height:11}, style:{fill:LAV}});
graphic.push({type:'rect', z:100, shape:{x:0,y:0,width:8,height:1016}, style:{fill:LAV}});

const chart = echarts.init(document.getElementById('c'), null, {renderer:'canvas'});
chart.setOption({animation:false, backgroundColor:'#fff', grid, xAxis, yAxis, series, graphic});
</script></body></html>
